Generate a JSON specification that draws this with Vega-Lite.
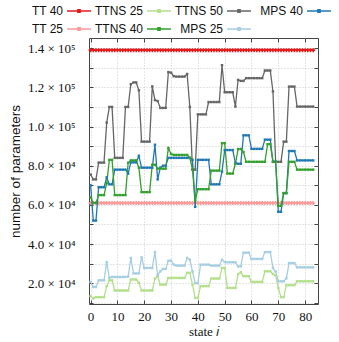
{
  "$schema": "https://vega.github.io/schema/vega-lite/v6.json",
  "width": 229,
  "height": 266,
  "autosize": {"type": "none"},
  "padding": {"left": 89, "top": 38, "right": 21, "bottom": 38},
  "background": "white",
  "config": {
    "view": {"stroke": "#444444", "strokeWidth": 1},
    "font": "Liberation Serif",
    "axis": {
      "labelFont": "Liberation Serif",
      "labelFontSize": 13,
      "labelColor": "#111111",
      "tickColor": "#444444",
      "tickSize": -4,
      "domain": false,
      "gridColor": "#bdbdbd",
      "gridDash": [1, 2],
      "gridWidth": 0.8,
      "titleFontWeight": "normal",
      "titleColor": "#111111"
    },
    "legend": {
      "padding": 0,
      "labelFont": "Liberation Sans",
      "labelFontSize": 12,
      "labelColor": "#111111",
      "symbolStrokeWidth": 1.5
    }
  },
  "data": {"values": [
    {"i":0,"TT 40":139000,"TT 25":61000,"TTNS 25":13400,"TTNS 40":63800,"TTNS 50":75500,"MPS 25":20700,"MPS 40":70000},
    {"i":1,"TT 40":139000,"TT 25":61000,"TTNS 25":12200,"TTNS 40":61000,"TTNS 50":73000,"MPS 25":18100,"MPS 40":52000},
    {"i":2,"TT 40":139000,"TT 25":61000,"TTNS 25":12900,"TTNS 40":61000,"TTNS 50":73000,"MPS 25":18100,"MPS 40":52000},
    {"i":3,"TT 40":139000,"TT 25":61000,"TTNS 25":12900,"TTNS 40":65000,"TTNS 50":81600,"MPS 25":21500,"MPS 40":69000},
    {"i":4,"TT 40":139000,"TT 25":61000,"TTNS 25":12900,"TTNS 40":65000,"TTNS 50":81600,"MPS 25":21500,"MPS 40":69000},
    {"i":5,"TT 40":139000,"TT 25":61000,"TTNS 25":12900,"TTNS 40":65000,"TTNS 50":81600,"MPS 25":21500,"MPS 40":69000},
    {"i":6,"TT 40":139000,"TT 25":61000,"TTNS 25":18500,"TTNS 40":71000,"TTNS 50":102000,"MPS 25":30700,"MPS 40":74000},
    {"i":7,"TT 40":139000,"TT 25":61000,"TTNS 25":21500,"TTNS 40":83000,"TTNS 50":110000,"MPS 25":22700,"MPS 40":70500},
    {"i":8,"TT 40":139000,"TT 25":61000,"TTNS 25":21500,"TTNS 40":83000,"TTNS 50":110000,"MPS 25":23200,"MPS 40":70500},
    {"i":9,"TT 40":139000,"TT 25":61000,"TTNS 25":16300,"TTNS 40":65000,"TTNS 50":84000,"MPS 25":23200,"MPS 40":78000},
    {"i":10,"TT 40":139000,"TT 25":61000,"TTNS 25":16300,"TTNS 40":65000,"TTNS 50":84000,"MPS 25":23200,"MPS 40":78000},
    {"i":11,"TT 40":139000,"TT 25":61000,"TTNS 25":16300,"TTNS 40":65000,"TTNS 50":84000,"MPS 25":23200,"MPS 40":78000},
    {"i":12,"TT 40":139000,"TT 25":61000,"TTNS 25":16300,"TTNS 40":65000,"TTNS 50":84000,"MPS 25":23200,"MPS 40":78000},
    {"i":13,"TT 40":139000,"TT 25":61000,"TTNS 25":16300,"TTNS 40":65000,"TTNS 50":110000,"MPS 25":23200,"MPS 40":78000},
    {"i":14,"TT 40":139000,"TT 25":61000,"TTNS 25":16300,"TTNS 40":81500,"TTNS 50":110000,"MPS 25":23400,"MPS 40":76000},
    {"i":15,"TT 40":139000,"TT 25":61000,"TTNS 25":21900,"TTNS 40":82700,"TTNS 50":121600,"MPS 25":32900,"MPS 40":81700},
    {"i":16,"TT 40":139000,"TT 25":61000,"TTNS 25":21900,"TTNS 40":82700,"TTNS 50":122500,"MPS 25":25000,"MPS 40":81700},
    {"i":17,"TT 40":139000,"TT 25":61000,"TTNS 25":21900,"TTNS 40":82700,"TTNS 50":122500,"MPS 25":25000,"MPS 40":81700},
    {"i":18,"TT 40":139000,"TT 25":61000,"TTNS 25":20200,"TTNS 40":79000,"TTNS 50":118500,"MPS 25":25000,"MPS 40":85000},
    {"i":19,"TT 40":139000,"TT 25":61000,"TTNS 25":16300,"TTNS 40":66500,"TTNS 50":92300,"MPS 25":33200,"MPS 40":79000},
    {"i":20,"TT 40":139000,"TT 25":61000,"TTNS 25":16300,"TTNS 40":66500,"TTNS 50":92300,"MPS 25":27800,"MPS 40":79000},
    {"i":21,"TT 40":139000,"TT 25":61000,"TTNS 25":16300,"TTNS 40":66500,"TTNS 50":92300,"MPS 25":27800,"MPS 40":79000},
    {"i":22,"TT 40":139000,"TT 25":61000,"TTNS 25":16300,"TTNS 40":66500,"TTNS 50":92300,"MPS 25":27800,"MPS 40":79000},
    {"i":23,"TT 40":139000,"TT 25":61000,"TTNS 25":16300,"TTNS 40":80500,"TTNS 50":120500,"MPS 25":27800,"MPS 40":79000},
    {"i":24,"TT 40":139000,"TT 25":61000,"TTNS 25":22400,"TTNS 40":80500,"TTNS 50":113500,"MPS 25":35900,"MPS 40":90700},
    {"i":25,"TT 40":139000,"TT 25":61000,"TTNS 25":23600,"TTNS 40":78500,"TTNS 50":113000,"MPS 25":24100,"MPS 40":73000},
    {"i":26,"TT 40":139000,"TT 25":61000,"TTNS 25":19300,"TTNS 40":78500,"TTNS 50":109500,"MPS 25":26100,"MPS 40":79000},
    {"i":27,"TT 40":139000,"TT 25":61000,"TTNS 25":19300,"TTNS 40":78500,"TTNS 50":109500,"MPS 25":27300,"MPS 40":80000},
    {"i":28,"TT 40":139000,"TT 25":61000,"TTNS 25":19300,"TTNS 40":78500,"TTNS 50":109500,"MPS 25":27300,"MPS 40":80000},
    {"i":29,"TT 40":139000,"TT 25":61000,"TTNS 25":22700,"TTNS 40":89000,"TTNS 50":127800,"MPS 25":31500,"MPS 40":84000},
    {"i":30,"TT 40":139000,"TT 25":61000,"TTNS 25":22700,"TTNS 40":86000,"TTNS 50":127500,"MPS 25":31500,"MPS 40":84000},
    {"i":31,"TT 40":139000,"TT 25":61000,"TTNS 25":22700,"TTNS 40":85500,"TTNS 50":125700,"MPS 25":29500,"MPS 40":84000},
    {"i":32,"TT 40":139000,"TT 25":61000,"TTNS 25":22700,"TTNS 40":85500,"TTNS 50":125500,"MPS 25":29000,"MPS 40":84000},
    {"i":33,"TT 40":139000,"TT 25":61000,"TTNS 25":22700,"TTNS 40":85500,"TTNS 50":125500,"MPS 25":29000,"MPS 40":84000},
    {"i":34,"TT 40":139000,"TT 25":61000,"TTNS 25":22700,"TTNS 40":85500,"TTNS 50":125500,"MPS 25":29000,"MPS 40":84000},
    {"i":35,"TT 40":139000,"TT 25":61000,"TTNS 25":22700,"TTNS 40":85500,"TTNS 50":125500,"MPS 25":29000,"MPS 40":84000},
    {"i":36,"TT 40":139000,"TT 25":61000,"TTNS 25":25300,"TTNS 40":85500,"TTNS 50":126800,"MPS 25":32900,"MPS 40":84000},
    {"i":37,"TT 40":139000,"TT 25":61000,"TTNS 25":25300,"TTNS 40":84000,"TTNS 50":110000,"MPS 25":32000,"MPS 40":84000},
    {"i":38,"TT 40":139000,"TT 25":61000,"TTNS 25":19300,"TTNS 40":78000,"TTNS 50":78000,"MPS 25":26000,"MPS 40":83000},
    {"i":39,"TT 40":139000,"TT 25":61000,"TTNS 25":12500,"TTNS 40":62000,"TTNS 50":78000,"MPS 25":20000,"MPS 40":59000},
    {"i":40,"TT 40":139000,"TT 25":61000,"TTNS 25":12500,"TTNS 40":68000,"TTNS 50":106200,"MPS 25":20000,"MPS 40":83000},
    {"i":41,"TT 40":139000,"TT 25":61000,"TTNS 25":18500,"TTNS 40":68000,"TTNS 50":106200,"MPS 25":29500,"MPS 40":83000},
    {"i":42,"TT 40":139000,"TT 25":61000,"TTNS 25":18500,"TTNS 40":68000,"TTNS 50":106200,"MPS 25":29500,"MPS 40":83000},
    {"i":43,"TT 40":139000,"TT 25":61000,"TTNS 25":18500,"TTNS 40":68000,"TTNS 50":106200,"MPS 25":29500,"MPS 40":83000},
    {"i":44,"TT 40":139000,"TT 25":61000,"TTNS 25":18500,"TTNS 40":68000,"TTNS 50":112500,"MPS 25":29500,"MPS 40":83000},
    {"i":45,"TT 40":139000,"TT 25":61000,"TTNS 25":22400,"TTNS 40":77500,"TTNS 50":112500,"MPS 25":29000,"MPS 40":70500},
    {"i":46,"TT 40":139000,"TT 25":61000,"TTNS 25":22400,"TTNS 40":77500,"TTNS 50":112500,"MPS 25":29000,"MPS 40":70500},
    {"i":47,"TT 40":139000,"TT 25":61000,"TTNS 25":22400,"TTNS 40":77500,"TTNS 50":112500,"MPS 25":29000,"MPS 40":70500},
    {"i":48,"TT 40":139000,"TT 25":61000,"TTNS 25":22400,"TTNS 40":77500,"TTNS 50":112500,"MPS 25":29000,"MPS 40":70500},
    {"i":49,"TT 40":139000,"TT 25":61000,"TTNS 25":27800,"TTNS 40":91500,"TTNS 50":131300,"MPS 25":32000,"MPS 40":77000},
    {"i":50,"TT 40":139000,"TT 25":61000,"TTNS 25":27800,"TTNS 40":91500,"TTNS 50":117500,"MPS 25":30800,"MPS 40":88000},
    {"i":51,"TT 40":139000,"TT 25":61000,"TTNS 25":17600,"TTNS 40":76000,"TTNS 50":117500,"MPS 25":30700,"MPS 40":88000},
    {"i":52,"TT 40":139000,"TT 25":61000,"TTNS 25":17600,"TTNS 40":76000,"TTNS 50":117500,"MPS 25":30700,"MPS 40":88000},
    {"i":53,"TT 40":139000,"TT 25":61000,"TTNS 25":17600,"TTNS 40":76000,"TTNS 50":117500,"MPS 25":30700,"MPS 40":88000},
    {"i":54,"TT 40":139000,"TT 25":61000,"TTNS 25":17600,"TTNS 40":81000,"TTNS 50":110200,"MPS 25":30700,"MPS 40":81500},
    {"i":55,"TT 40":139000,"TT 25":61000,"TTNS 25":24700,"TTNS 40":88500,"TTNS 50":123800,"MPS 25":28600,"MPS 40":81000},
    {"i":56,"TT 40":139000,"TT 25":61000,"TTNS 25":25600,"TTNS 40":88500,"TTNS 50":123300,"MPS 25":28600,"MPS 40":81000},
    {"i":57,"TT 40":139000,"TT 25":61000,"TTNS 25":23600,"TTNS 40":87000,"TTNS 50":123300,"MPS 25":35600,"MPS 40":95500},
    {"i":58,"TT 40":139000,"TT 25":61000,"TTNS 25":23600,"TTNS 40":82000,"TTNS 50":124700,"MPS 25":35600,"MPS 40":95500},
    {"i":59,"TT 40":139000,"TT 25":61000,"TTNS 25":23600,"TTNS 40":82000,"TTNS 50":124700,"MPS 25":35600,"MPS 40":95500},
    {"i":60,"TT 40":139000,"TT 25":61000,"TTNS 25":20700,"TTNS 40":82000,"TTNS 50":124700,"MPS 25":32400,"MPS 40":88600},
    {"i":61,"TT 40":139000,"TT 25":61000,"TTNS 25":20700,"TTNS 40":82000,"TTNS 50":124700,"MPS 25":32400,"MPS 40":88600},
    {"i":62,"TT 40":139000,"TT 25":61000,"TTNS 25":20700,"TTNS 40":82000,"TTNS 50":124700,"MPS 25":32400,"MPS 40":88600},
    {"i":63,"TT 40":139000,"TT 25":61000,"TTNS 25":20700,"TTNS 40":82000,"TTNS 50":124700,"MPS 25":32400,"MPS 40":88600},
    {"i":64,"TT 40":139000,"TT 25":61000,"TTNS 25":20700,"TTNS 40":82000,"TTNS 50":124700,"MPS 25":32400,"MPS 40":88600},
    {"i":65,"TT 40":139000,"TT 25":61000,"TTNS 25":26100,"TTNS 40":82000,"TTNS 50":128600,"MPS 25":35900,"MPS 40":93300},
    {"i":66,"TT 40":139000,"TT 25":61000,"TTNS 25":26100,"TTNS 40":91000,"TTNS 50":128600,"MPS 25":35900,"MPS 40":93300},
    {"i":67,"TT 40":139000,"TT 25":61000,"TTNS 25":26100,"TTNS 40":91000,"TTNS 50":128600,"MPS 25":35900,"MPS 40":93300},
    {"i":68,"TT 40":139000,"TT 25":61000,"TTNS 25":24700,"TTNS 40":82000,"TTNS 50":117900,"MPS 25":27800,"MPS 40":82000},
    {"i":69,"TT 40":139000,"TT 25":61000,"TTNS 25":24000,"TTNS 40":82000,"TTNS 50":82000,"MPS 25":26000,"MPS 40":82000},
    {"i":70,"TT 40":139000,"TT 25":61000,"TTNS 25":17600,"TTNS 40":59500,"TTNS 50":82000,"MPS 25":21000,"MPS 40":56500},
    {"i":71,"TT 40":139000,"TT 25":61000,"TTNS 25":12900,"TTNS 40":59500,"TTNS 50":82000,"MPS 25":21000,"MPS 40":56500},
    {"i":72,"TT 40":139000,"TT 25":61000,"TTNS 25":12900,"TTNS 40":66000,"TTNS 50":92300,"MPS 25":21000,"MPS 40":66000},
    {"i":73,"TT 40":139000,"TT 25":61000,"TTNS 25":19000,"TTNS 40":66000,"TTNS 50":92300,"MPS 25":22500,"MPS 40":66000},
    {"i":74,"TT 40":139000,"TT 25":61000,"TTNS 25":19000,"TTNS 40":82000,"TTNS 50":120400,"MPS 25":30300,"MPS 40":87500},
    {"i":75,"TT 40":139000,"TT 25":61000,"TTNS 25":19000,"TTNS 40":82000,"TTNS 50":120400,"MPS 25":30300,"MPS 40":87500},
    {"i":76,"TT 40":139000,"TT 25":61000,"TTNS 25":19000,"TTNS 40":82000,"TTNS 50":120400,"MPS 25":30300,"MPS 40":87500},
    {"i":77,"TT 40":139000,"TT 25":61000,"TTNS 25":21000,"TTNS 40":78000,"TTNS 50":110200,"MPS 25":28100,"MPS 40":82700},
    {"i":78,"TT 40":139000,"TT 25":61000,"TTNS 25":21000,"TTNS 40":78000,"TTNS 50":110200,"MPS 25":28100,"MPS 40":82700},
    {"i":79,"TT 40":139000,"TT 25":61000,"TTNS 25":21000,"TTNS 40":78000,"TTNS 50":110200,"MPS 25":28100,"MPS 40":82700},
    {"i":80,"TT 40":139000,"TT 25":61000,"TTNS 25":21000,"TTNS 40":78000,"TTNS 50":110200,"MPS 25":28100,"MPS 40":82700},
    {"i":81,"TT 40":139000,"TT 25":61000,"TTNS 25":21000,"TTNS 40":78000,"TTNS 50":110200,"MPS 25":28100,"MPS 40":82700},
    {"i":82,"TT 40":139000,"TT 25":61000,"TTNS 25":21000,"TTNS 40":78000,"TTNS 50":110200,"MPS 25":28100,"MPS 40":82700},
    {"i":83,"TT 40":139000,"TT 25":61000,"TTNS 25":21000,"TTNS 40":78000,"TTNS 50":110200,"MPS 25":28100,"MPS 40":82700}
  ]},
  "transform": [
    {"fold": ["TT 40", "TTNS 25", "TTNS 50", "MPS 40", "TT 25", "TTNS 40", "MPS 25"], "as": ["series", "params"]}
  ],
  "layer": [
    {
      "transform": [{"filter": {"field": "series", "oneOf": ["TT 40", "TT 25"]}}],
      "mark": {"type": "line", "strokeWidth": 1.2, "point": {"shape": "cross", "size": 16, "filled": true}},
      "encoding": {
        "x": {
          "field": "i", "type": "quantitative",
          "scale": {"domain": [-0.6, 84.8], "nice": false, "zero": false},
          "axis": {
            "values": [0, 10, 20, 30, 40, 50, 60, 70, 80],
            "grid": true,
            "labelPadding": 10,
            "title": "state 𝑖",
            "titleFont": "Liberation Serif",
            "titleFontSize": 13,
            "titleY": 27,
            "titleBaseline": "middle"
          }
        },
        "y": {
          "field": "params", "type": "quantitative",
          "scale": {"domain": [9400, 145200], "nice": false, "zero": false},
          "axis": {
            "values": [10000, 20000, 30000, 40000, 50000, 60000, 70000, 80000, 90000, 100000, 110000, 120000, 130000, 140000],
            "grid": true,
            "labelPadding": 18,
            "labelExpr": "datum.value % 20000 == 0 ? (datum.value >= 100000 ? format(datum.value / 100000, '.1f') + ' × 10⁵' : format(datum.value / 10000, '.1f') + ' × 10⁴') : ''",
            "title": "number of parameters",
            "titleFont": "Liberation Sans",
            "titleFontSize": 13.5,
            "titleX": -74,
            "titleY": 133,
            "titleBaseline": "middle"
          }
        },
        "color": {
          "field": "series", "type": "nominal",
          "scale": {
            "domain": ["TT 40", "TTNS 25", "TTNS 50", "MPS 40", "TT 25", "TTNS 40", "MPS 25"],
            "range": ["#e31a1c", "#b2df8a", "#666666", "#1f78b4", "#fb9a99", "#33a02c", "#a6cee3"]
          },
          "legend": {
            "title": null,
            "orient": "none",
            "legendX": -41,
            "legendY": -37,
            "direction": "horizontal",
            "columns": 4,
            "gridAlign": "all",
            "labelAlign": "right",
            "labelOffset": -26,
            "symbolOffset": 21,
            "symbolType": "M-1.33,0H1.33M-0.12,-0.14H0.12V0.14H-0.12Z",
            "symbolSize": 324,
            "rowPadding": 2,
            "columnPadding": 0
          }
        }
      }
    },
    {
      "transform": [{"filter": {"not": {"field": "series", "oneOf": ["TT 40", "TT 25"]}}}],
      "mark": {"type": "line", "strokeWidth": 1.3, "point": {"shape": "square", "size": 6, "filled": true}},
      "encoding": {
        "x": {"field": "i", "type": "quantitative", "scale": {"domain": [-0.6, 84.8], "nice": false, "zero": false}, "axis": null},
        "y": {"field": "params", "type": "quantitative", "scale": {"domain": [9400, 145200], "nice": false, "zero": false}, "axis": null},
        "color": {"field": "series", "type": "nominal"}
      }
    },
    {
      "mark": {"type": "point", "opacity": 0},
      "encoding": {
        "x": {
          "field": "i", "type": "quantitative",
          "scale": {"domain": [-0.6, 84.8], "nice": false, "zero": false},
          "axis": {"orient": "top", "values": [0, 10, 20, 30, 40, 50, 60, 70, 80], "labels": false, "grid": false, "title": null}
        },
        "y": {
          "field": "params", "type": "quantitative",
          "scale": {"domain": [9400, 145200], "nice": false, "zero": false},
          "axis": {"orient": "right", "values": [10000, 20000, 30000, 40000, 50000, 60000, 70000, 80000, 90000, 100000, 110000, 120000, 130000, 140000], "labels": false, "grid": false, "title": null}
        }
      }
    }
  ],
  "resolve": {"scale": {"x": "independent", "y": "independent", "color": "shared"}}
}
